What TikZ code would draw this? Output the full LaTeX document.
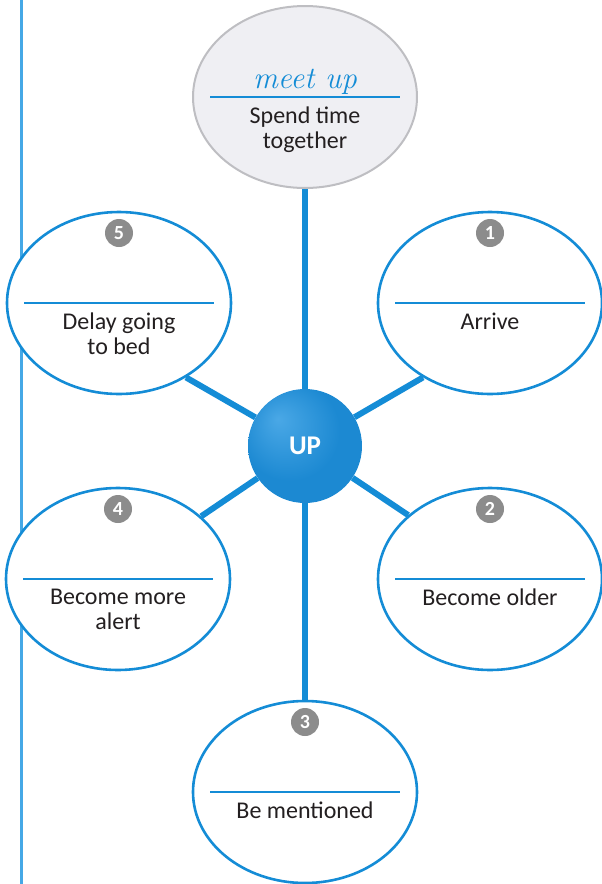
\documentclass[tikz,border=0pt]{standalone}
\usepackage{fontspec}
\setmainfont{Carlito}
\newfontfamily\handfont{Latin Modern Roman}
\usetikzlibrary{shapes.geometric,backgrounds}

\definecolor{lineblue}{HTML}{148CD6}
\definecolor{sideblue}{HTML}{45A8E6}
\definecolor{hubhi}{HTML}{4AA8E6}
\definecolor{hubmid}{HTML}{1C89D2}
\definecolor{hubdark}{HTML}{0D70B6}
\definecolor{badgegrey}{HTML}{8C8C8C}
\definecolor{topfill}{HTML}{EFEFF3}
\definecolor{topedge}{HTML}{BEBEC2}
\definecolor{inkgrey}{HTML}{231F20}

\pgfdeclareradialshading{hubshade}{\pgfpoint{-12bp}{12bp}}{color(0bp)=(hubhi); color(22bp)=(hubmid); color(42bp)=(hubmid); color(50bp)=(hubdark)}

\tikzset{
  bubble/.style={ellipse, draw=lineblue, line width=2.6pt, fill=white, minimum width=224pt, minimum height=182pt, inner sep=0pt},
  topbubble/.style={bubble, draw=topedge, fill=topfill, line width=2pt},
  hub/.style={circle, minimum size=114pt, inner sep=0pt, shading=hubshade, text=white, font=\fontsize{27}{30}\selectfont\bfseries},
  link/.style={draw=lineblue, line width=6pt},
  rule/.style={draw=lineblue, line width=2pt},
  badge/.style={circle, fill=badgegrey, minimum size=28pt, inner sep=0pt, text=white, font=\fontsize{20}{20}\selectfont\bfseries},
  caption/.style={anchor=north, inner sep=0pt, align=center, text=inkgrey, font=\fontsize{24}{25}\selectfont},
  script/.style={anchor=base, inner sep=0pt, text=lineblue, font=\fontsize{31}{32}\selectfont\handfont\itshape}
}

\begin{document}
\begin{tikzpicture}[x=1pt,y=-1pt]
\useasboundingbox (0,0) rectangle (602,884);
\draw[sideblue,line width=3pt] (21,0) -- (21,884);
% hub and bubbles
\node[hub] (up) at (305,446) {UP};
\node[topbubble] (top) at (305,97) {};
\node[bubble] (e1) at (490,303) {};
\node[bubble] (e2) at (490,579) {};
\node[bubble] (e3) at (305,792) {};
\node[bubble] (e4) at (118,579) {};
\node[bubble] (e5) at (119,303) {};
% spokes
\begin{scope}[on background layer]
  \draw[link] (up) -- (top);
  \draw[link] (up) -- (e3);
  \draw[link] (up) -- (e1.228);
  \draw[link] (up) -- (e2.142);
  \draw[link] (up) -- (e4.37);
  \draw[link] (up) -- (e5.312);
\end{scope}
% rules and numbers
\draw[rule] ([xshift=-95pt]top.center) -- ([xshift=95pt]top.center);
\foreach \e/\n in {e1/1,e2/2,e3/3,e4/4,e5/5}{
  \draw[rule] ([xshift=-95pt]\e.center) -- ([xshift=95pt]\e.center);
  \node[badge] (b\n) at ([yshift=70pt]\e.center) {\n};
}
% texts
\node[script] (word) at ([yshift=9pt]top.center) {meet up};
\node[caption] (c0) at ([yshift=-10pt]top.center) {Spend time\\together};
\node[caption] (c1) at ([yshift=-10pt]e1.center) {Arrive};
\node[caption] (c2) at ([yshift=-10pt]e2.center) {Become older};
\node[caption] (c3) at ([yshift=-10pt]e3.center) {Be mentioned};
\node[caption] (c4) at ([yshift=-10pt]e4.center) {Become more\\alert};
\node[caption] (c5) at ([yshift=-10pt]e5.center) {Delay going\\to bed};
\end{tikzpicture}
\end{document}
